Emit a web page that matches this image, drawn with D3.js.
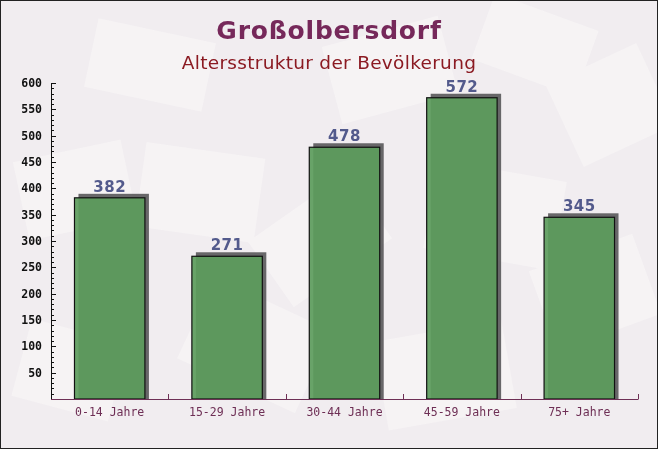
<!DOCTYPE html>
<html><head><meta charset="utf-8">
<script src="https://cdn.jsdelivr.net/npm/d3@7"></script>
<style>html,body{margin:0;padding:0;background:#fff;}svg{display:block;}</style>
</head><body>
<svg id="chart" width="658" height="449"></svg>
<script>
const categories = ["0-14 Jahre", "15-29 Jahre", "30-44 Jahre", "45-59 Jahre", "75+ Jahre"];
const values = [382, 271, 478, 572, 345];
const yTickValues = [50, 100, 150, 200, 250, 300, 350, 400, 450, 500, 550, 600];
const titleText = "Großolbersdorf";
const subtitleText = "Altersstruktur der Bevölkerung";

const W = 658, H = 449;
const svg = d3.select("#chart");

// background
svg.append("rect").attr("x", 0).attr("y", 0).attr("width", W).attr("height", H).attr("fill", "#f1edf0");
// decorative faint envelopes
const deco = svg.append("g").attr("opacity", 0.55);
const envs = [
  [20, 150, 110, 80, -12], [140, 150, 120, 85, 8], [330, 30, 120, 80, -15], [480, 10, 110, 70, 20],
  [560, 60, 100, 90, -25], [430, 170, 130, 90, 10], [540, 250, 110, 85, -20], [190, 300, 130, 90, 25],
  [380, 330, 130, 90, -10], [20, 330, 100, 80, 15], [260, 200, 120, 80, -35], [90, 30, 120, 70, 12]
];
envs.forEach(([x, y, w, h, r]) => {
  deco.append("rect").attr("x", x).attr("y", y).attr("width", w).attr("height", h)
    .attr("fill", "#faf8f8").attr("transform", `rotate(${r},${x + w / 2},${y + h / 2})`);
});

const x0 = 51, x1 = 638, yTop = 83, yBase = 399;

const x = d3.scaleBand().domain(categories).range([x0, x1]).paddingInner(0.4).paddingOuter(0.2);
const y = d3.scaleLinear().domain([0, 600]).range([yBase, yTop]);

// bars: shadow then bar
const barG = svg.append("g");
barG.selectAll("rect.shadow").data(values).join("rect").attr("class", "shadow")
  .attr("x", (d, i) => x(categories[i]) + 4)
  .attr("y", d => y(d) - 4)
  .attr("width", x.bandwidth())
  .attr("height", d => yBase - y(d) + 4)
  .attr("fill", "#4f4d50").attr("opacity", 0.85);
barG.selectAll("rect.bar").data(values).join("rect").attr("class", "bar")
  .attr("x", (d, i) => x(categories[i]))
  .attr("y", d => y(d))
  .attr("width", x.bandwidth())
  .attr("height", d => yBase - y(d))
  .attr("fill", "#5c9c5c").attr("fill-opacity", 0.92)
  .attr("stroke", "#111").attr("stroke-width", 1.2);

// value labels
svg.append("g").selectAll("text").data(values).join("text")
  .attr("x", (d, i) => x(categories[i]) + x.bandwidth() / 2)
  .attr("y", d => y(d) - 6)
  .attr("text-anchor", "middle")
  .attr("font-family", "DejaVu Sans, sans-serif").attr("font-weight", "bold").attr("font-size", 15)
  .attr("letter-spacing", 0.5)
  .attr("fill", "#535a8c")
  .text(d => d);

// y axis
const yAxisG = svg.append("g").attr("transform", `translate(${x0},0)`);
const minor = d3.range(10, 601, 10);
yAxisG.selectAll("line.minor").data(minor).join("line")
  .attr("x1", 0).attr("x2", d => d % 50 === 0 ? 5 : 3)
  .attr("y1", d => Math.round(y(d)) + 0.5).attr("y2", d => Math.round(y(d)) + 0.5)
  .attr("stroke", "#111").attr("stroke-width", 1);
yAxisG.append("line").attr("x1", 0.5).attr("x2", 0.5).attr("y1", yTop).attr("y2", yBase + 0.5)
  .attr("stroke", "#111").attr("stroke-width", 1);
yAxisG.selectAll("text").data(yTickValues).join("text")
  .attr("x", -9).attr("y", d => y(d) + 4)
  .attr("text-anchor", "end")
  .attr("font-family", "DejaVu Sans Mono, monospace").attr("font-weight", "bold").attr("font-size", 11.5)
  .attr("fill", "#111")
  .text(d => d);

// x axis
const xAxisG = svg.append("g");
xAxisG.append("line").attr("x1", x0).attr("x2", x1 + 0.5).attr("y1", yBase + 0.5).attr("y2", yBase + 0.5)
  .attr("stroke", "#6e2f55").attr("stroke-width", 1);
const bounds = categories.map(c => x(c) - x.step() * 0.2 + x.step());
xAxisG.selectAll("line.tick").data(bounds).join("line")
  .attr("x1", d => Math.round(d) + 0.5).attr("x2", d => Math.round(d) + 0.5)
  .attr("y1", yBase).attr("y2", yBase - 5)
  .attr("stroke", "#6e2f55");
xAxisG.selectAll("text").data(categories).join("text")
  .attr("x", d => x(d) + x.bandwidth() / 2)
  .attr("y", 416)
  .attr("text-anchor", "middle")
  .attr("font-family", "DejaVu Sans Mono, monospace").attr("font-size", 11.5)
  .attr("fill", "#6e2f55")
  .text(d => d);

// titles
svg.append("text").attr("x", 329).attr("y", 39).attr("text-anchor", "middle")
  .attr("font-family", "DejaVu Sans, sans-serif").attr("font-weight", "bold").attr("font-size", 25)
  .attr("letter-spacing", 0.8)
  .attr("fill", "#76285a").text(titleText);
svg.append("text").attr("x", 329).attr("y", 69).attr("text-anchor", "middle")
  .attr("font-family", "DejaVu Sans, sans-serif").attr("font-size", 18.5)
  .attr("letter-spacing", 0.3)
  .attr("fill", "#8b1a22").text(subtitleText);

// border
svg.append("rect").attr("x", 0.5).attr("y", 0.5).attr("width", W - 1).attr("height", H - 1)
  .attr("fill", "none").attr("stroke", "#222").attr("stroke-width", 1);
</script>
</body></html>
